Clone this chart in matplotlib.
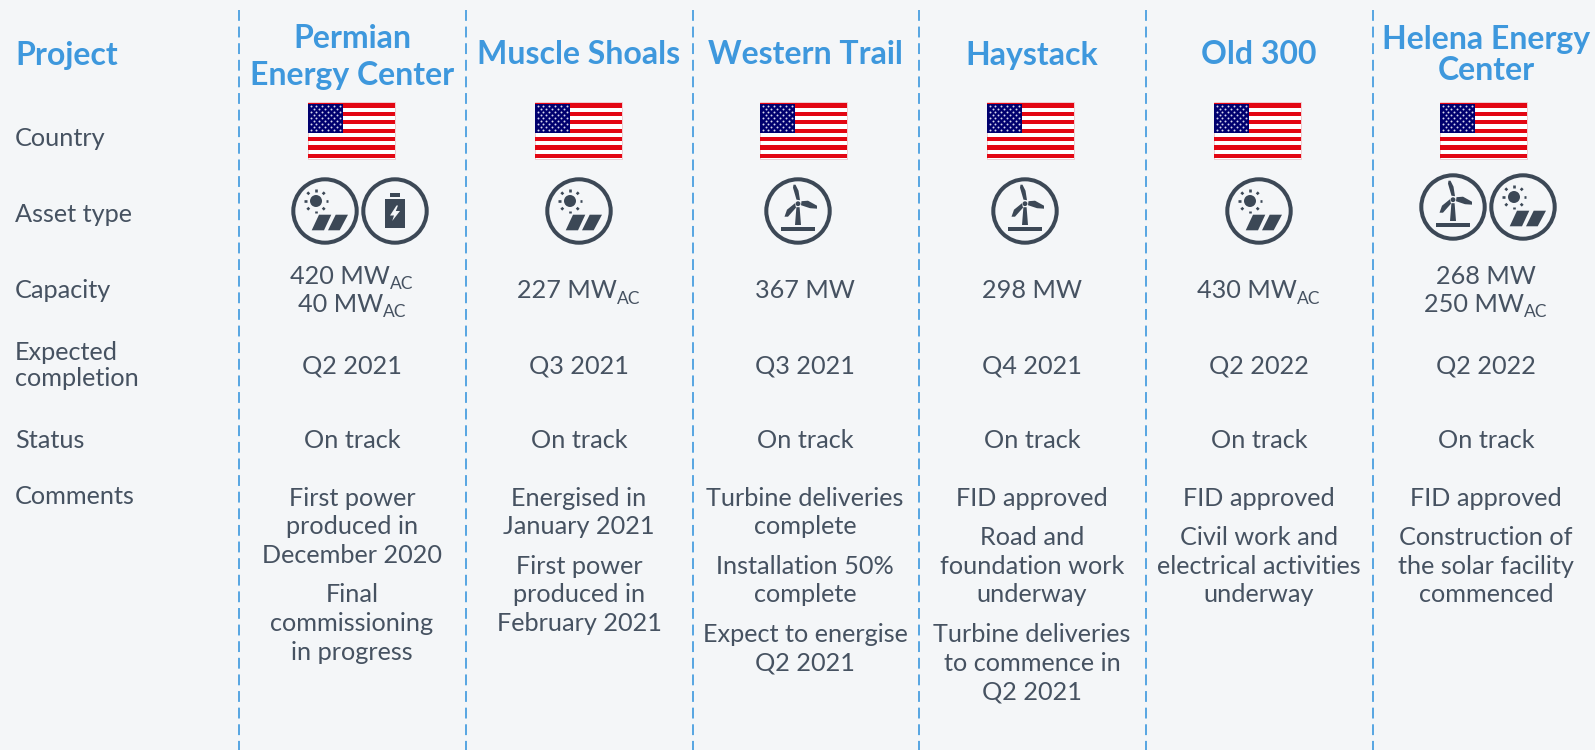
import numpy as np
import matplotlib
matplotlib.use("Agg")
import matplotlib.pyplot as plt
from matplotlib.patches import Circle, Polygon, Rectangle

plt.rcParams['font.family'] = ['Lato', 'DejaVu Sans']

BG = '#f4f6f8'
BLUE = '#3e98dd'
DARK = '#465261'
ICON = '#3c4856'
BODY = 18.2
HEAD = 23

row_labels = ['Country', 'Asset type', 'Capacity', 'Expected\ncompletion', 'Status', 'Comments']
projects = ['Permian\nEnergy Center', 'Muscle Shoals', 'Western Trail', 'Haystack', 'Old 300',
            'Helena Energy\nCenter']
assets = [['solar', 'battery'], ['solar'], ['wind'], ['wind'], ['solar'], ['wind', 'solar']]
capacity = [[('420 MW', 'AC'), ('40 MW', 'AC')], [('227 MW', 'AC')], [('367 MW', '')], [('298 MW', '')],
            [('430 MW', 'AC')], [('268 MW', ''), ('250 MW', 'AC')]]
completion = ['Q2 2021', 'Q3 2021', 'Q3 2021', 'Q4 2021', 'Q2 2022', 'Q2 2022']
status = ['On track'] * 6
comments = [
    [['First power', 'produced in', 'December 2020'], ['Final', 'commissioning', 'in progress']],
    [['Energised in', 'January 2021'], ['First power', 'produced in', 'February 2021']],
    [['Turbine deliveries', 'complete'], ['Installation 50%', 'complete'], ['Expect to energise', 'Q2 2021']],
    [['FID approved'], ['Road and', 'foundation work', 'underway'], ['Turbine deliveries', 'to commence in', 'Q2 2021']],
    [['FID approved'], ['Civil work and', 'electrical activities', 'underway']],
    [['FID approved'], ['Construction of', 'the solar facility', 'commenced']],
]

# layout in pixels
centers = [352, 579, 805, 1032, 1259, 1486]
flag_x = [351, 578, 803, 1030, 1257, 1483]
dividers = [239, 466, 693, 919, 1146, 1373]
icon_x = [[325, 395], [579], [798], [1025], [1259], [1453, 1523]]
icon_y = [211, 211, 211, 211, 211, 207]

fig = plt.figure(figsize=(15.95, 7.5), dpi=100, facecolor=BG)
ax = fig.add_axes([0, 0, 1, 1])
ax.set_xlim(0, 1595)
ax.set_ylim(750, 0)
ax.axis('off')


def flag(cx):
    x0, y0, w, h = cx - 43.5, 102, 87, 57
    ax.add_patch(Rectangle((x0, y0), w, h, fc='white', ec='#ecc4c8', lw=0.6))
    for i in range(7):
        ax.add_patch(Rectangle((x0, y0 + 1.2 + i * 8.45), w, 4.3, fc='#e30613', ec='none'))
    ax.add_patch(Rectangle((x0, y0 + 1.5), 35, 29, fc='#00006e', ec='none'))
    sx, sy = [], []
    for r in range(9):
        n = 6 if r % 2 == 0 else 5
        off = 3 if r % 2 == 0 else 6
        for c in range(n):
            sx.append(x0 + off + c * 5.8)
            sy.append(y0 + 4 + r * 3.0)
    ax.scatter(sx, sy, s=2.0, c='#d8d8ee', linewidths=0, zorder=3)


def ring(cx, cy):
    ax.add_patch(Circle((cx, cy), 31.7, fc='none', ec=ICON, lw=2.9))


def solar(cx, cy):
    ring(cx, cy)
    sun_x, sun_y = cx - 9, cy - 10
    ax.add_patch(Circle((sun_x, sun_y), 6, fc=ICON, ec='none'))
    for a in np.arange(0, 360, 45):
        t = np.radians(a)
        ax.plot([sun_x + 9.5 * np.cos(t), sun_x + 12.3 * np.cos(t)],
                [sun_y + 9.5 * np.sin(t), sun_y + 12.3 * np.sin(t)], color=ICON, lw=1.9, solid_capstyle='butt')
    panel_a = [(-13.3, 19.3), (-1, 19.3), (6.3, 3.7), (-6, 3.7)]
    panel_b = [(3, 19.3), (14.7, 19.3), (23, 3.7), (10.7, 3.7)]
    for p in (panel_a, panel_b):
        ax.add_patch(Polygon([(cx + a, cy + b) for a, b in p], fc=ICON, ec='none'))


def battery(cx, cy):
    ring(cx, cy)
    ax.add_patch(Rectangle((cx - 5, cy - 18.3), 10, 4.3, fc=ICON, ec='none'))
    ax.add_patch(Rectangle((cx - 10, cy - 11.7), 20, 28.7, fc=ICON, ec='none'))
    bolt = [(1.5, -5.5), (-5, 4.5), (-1, 4.5), (-2.8, 10), (5, 0), (0.8, 0), (3, -5.5)]
    ax.add_patch(Polygon([(cx + a, cy + b) for a, b in bolt], fc=BG, ec='none'))


def wind(cx, cy):
    ring(cx, cy)
    hx, hy = cx, cy - 7.3
    blades = [[(-1.5, -4), (-5, -16), (-4.5, -19), (-2.5, -19), (0.5, -13), (2, -3.5)],
              [(3.5, -2.5), (10, -3), (19, 2), (19, 5), (12, 4.5), (3, 1.5)],
              [(-3, -0.5), (-11, 6), (-13.5, 13), (-10, 13), (-2, 4)]]
    for b in blades:
        ax.add_patch(Polygon([(hx + a, hy + c) for a, c in b], fc=ICON, ec='none'))
    ax.add_patch(Circle((hx, hy), 2.4, fc=ICON, ec='none'))
    ax.add_patch(Polygon([(cx - 1.6, hy + 3.5), (cx + 1.6, hy + 3.5), (cx + 3, cy + 14), (cx - 3, cy + 14)],
                         fc=ICON, ec='none'))
    ax.add_patch(Rectangle((cx - 16.7, cy + 16.3), 34, 4, fc=ICON, ec='none'))


icon_draw = {'solar': solar, 'battery': battery, 'wind': wind}


def cap_line(cx, y, value, sub):
    # value and subscript are centred together
    t = ax.text(cx, y, value, fontsize=BODY, color=DARK, ha='left', va='center')
    s = ax.text(cx, y + 8, sub, fontsize=12.5, color=DARK, ha='left', va='center')
    r = fig.canvas.get_renderer()
    w1 = t.get_window_extent(r).width
    w2 = s.get_window_extent(r).width if sub else 0
    left = cx - (w1 + w2) / 2
    t.set_x(left)
    s.set_x(left + w1)


# dividers
for x in dividers:
    ax.plot([x, x], [10, 750], color='#4a9fe0', lw=1.3, dashes=(6, 3.2))

# row labels
ax.text(15, 55, 'Project', fontsize=HEAD, fontweight='bold', color=BLUE, va='center')
label_y = [139, 215, 290, None, 441, 496]
for lab, y in zip(row_labels, label_y):
    if y is None:
        ax.text(15, 353, 'Expected', fontsize=BODY, color=DARK, va='center')
        ax.text(15, 379, 'completion', fontsize=BODY, color=DARK, va='center')
    else:
        ax.text(15, y, lab, fontsize=BODY, color=DARK, va='center')

for i, cx in enumerate(centers):
    lines = projects[i].split('\n')
    if i == 5:
        ys = [39, 71]
    elif len(lines) == 2:
        ys = [39, 75]
    else:
        ys = [55]
    for line, y in zip(lines, ys):
        ax.text(cx, y, line, fontsize=HEAD, fontweight='bold', color=BLUE, ha='center', va='center')

    flag(flag_x[i])

    for kind, x in zip(assets[i], icon_x[i]):
        icon_draw[kind](x, icon_y[i])

    caps = capacity[i]
    ys = [276, 304] if len(caps) == 2 else [291]
    for (value, sub), y in zip(caps, ys):
        cap_line(cx, y, value, sub)

    ax.text(cx, 366, completion[i], fontsize=BODY, color=DARK, ha='center', va='center')
    ax.text(cx, 441, status[i], fontsize=BODY, color=DARK, ha='center', va='center')

    y = 498
    for para in comments[i]:
        for line in para:
            ax.text(cx, y, line, fontsize=BODY, color=DARK, ha='center', va='center')
            y += 28.6
        y += 11

fig.savefig('out.png', dpi=100, facecolor=BG)
